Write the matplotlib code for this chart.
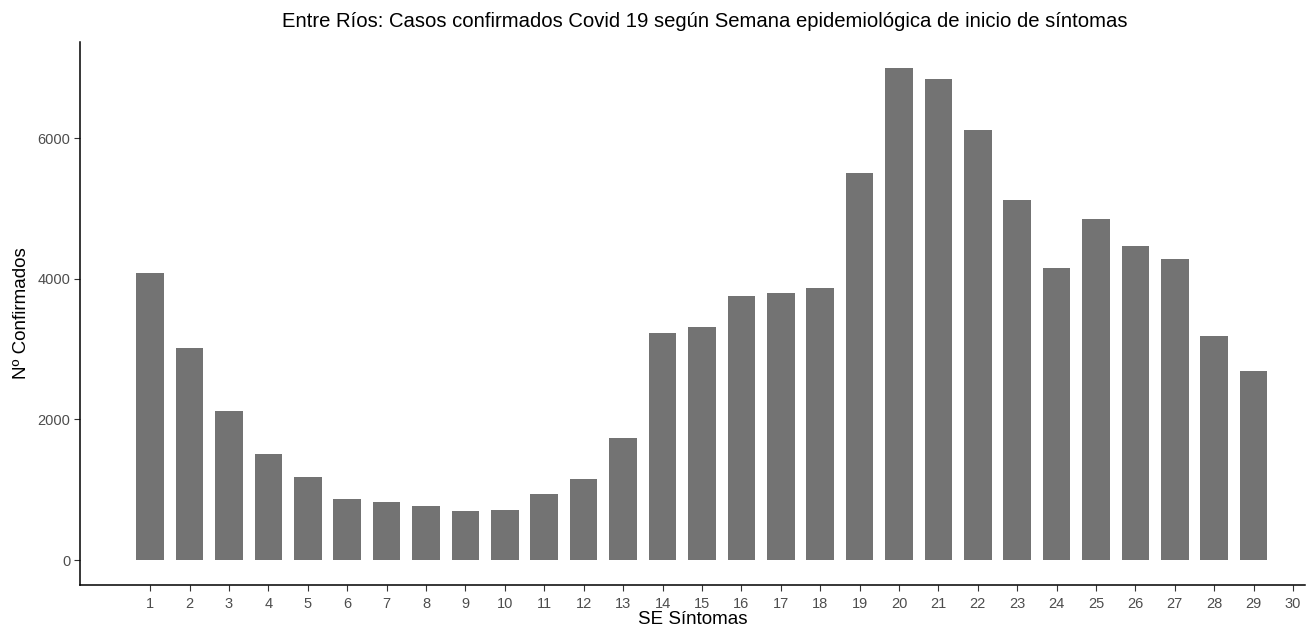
import matplotlib

matplotlib.use("Agg")
import matplotlib.pyplot as plt

plt.rcParams["font.family"] = ["Liberation Sans", "DejaVu Sans"]

semanas = list(range(1, 30))
confirmados = [4080, 3020, 2115, 1510, 1180, 870, 825, 770, 700, 715,
               940, 1155, 1735, 3235, 3320, 3750, 3790, 3875, 5505, 6990,
               6840, 6115, 5125, 4150, 4855, 4470, 4275, 3180, 2685]
xticks = list(range(1, 31))
yticks = [0, 2000, 4000, 6000]

fig = plt.figure(figsize=(13.1, 6.32), dpi=100)
ax = fig.add_axes([0.0611, 0.0744, 0.935, 0.859])

ax.bar(semanas, confirmados, width=0.7, color="#737373")

ax.set_xlim(-0.78, 30.3)
ax.set_ylim(-355, 7365)
ax.set_xticks(xticks)
ax.set_xticklabels([str(t) for t in xticks])
ax.set_yticks(yticks)

for s in ["top", "right"]:
    ax.spines[s].set_visible(False)
for s in ["left", "bottom"]:
    ax.spines[s].set_linewidth(1.1)
    ax.spines[s].set_color("black")
ax.tick_params(axis="both", length=4, width=0.8, color="#333333",
               labelsize=10.5, labelcolor="#4D4D4D", pad=3)
ax.tick_params(axis="x", pad=5)

ax.set_xlabel("SE Síntomas", fontsize=13.5, labelpad=0)
ax.set_ylabel("Nº Confirmados", fontsize=13.5, labelpad=5)
fig.text(0.538, 0.966, "Entre Ríos: Casos confirmados Covid 19 según Semana epidemiológica de inicio de síntomas",
         ha="center", va="center", fontsize=14.6)

fig.savefig("out.png", dpi=100)
